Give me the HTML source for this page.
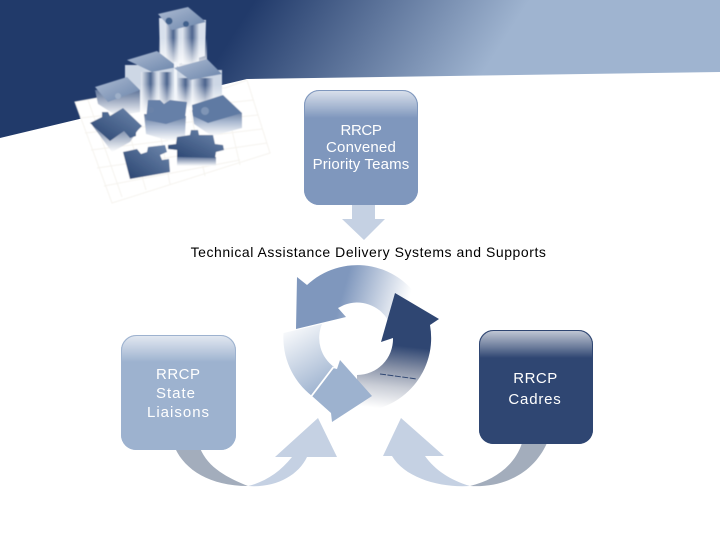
<!DOCTYPE html>
<html><head><meta charset="utf-8"><style>
html,body{margin:0;padding:0;background:#fff}
svg{display:block}
text{font-family:"Liberation Sans",sans-serif}
</style></head><body>
<svg width="720" height="540" viewBox="0 0 720 540" xmlns="http://www.w3.org/2000/svg">
<defs>
<linearGradient id="hdr" gradientUnits="userSpaceOnUse" x1="255" y1="0" x2="450" y2="125"><stop offset="0" stop-color="#213a6a"/><stop offset="1" stop-color="#9fb4d0"/></linearGradient>
<linearGradient id="gloss" x1="0" y1="0" x2="0" y2="1"><stop offset="0" stop-color="#fff" stop-opacity=".72"/><stop offset=".6" stop-color="#fff" stop-opacity=".3"/><stop offset="1" stop-color="#fff" stop-opacity="0"/></linearGradient>
<linearGradient id="a1" gradientUnits="userSpaceOnUse" x1="345" y1="285" x2="408" y2="303"><stop offset="0" stop-color="#7f97bd"/><stop offset="1" stop-color="#7f97bd" stop-opacity="0"/></linearGradient>
<linearGradient id="a2" gradientUnits="userSpaceOnUse" x1="402" y1="346" x2="395" y2="410"><stop offset="0" stop-color="#2f4672"/><stop offset=".35" stop-color="#8791a7"/><stop offset=".65" stop-color="#c9cdd6"/><stop offset="1" stop-color="#fff"/></linearGradient>
<linearGradient id="a3" gradientUnits="userSpaceOnUse" x1="325" y1="390" x2="285" y2="325"><stop offset="0" stop-color="#9db2cf"/><stop offset="1" stop-color="#9db2cf" stop-opacity="0"/></linearGradient>
<linearGradient id="fade" x1="0" y1="0" x2="0" y2="1"><stop offset="0" stop-color="#5d7499"/><stop offset=".45" stop-color="#a9b8d0"/><stop offset="1" stop-color="#fff"/></linearGradient>
<linearGradient id="fadeS" x1="0" y1="0" x2="0" y2="1"><stop offset="0" stop-color="#5f7499"/><stop offset="1" stop-color="#fff"/></linearGradient>
<linearGradient id="wf" x1="0" y1="0" x2="0" y2="1"><stop offset=".4" stop-color="#fff" stop-opacity="0"/><stop offset="1" stop-color="#fff"/></linearGradient>
<linearGradient id="col" x1="0" y1="0" x2="1" y2="0"><stop offset="0" stop-color="#e6ebf3"/><stop offset=".6" stop-color="#4b638d"/><stop offset="1" stop-color="#d5dde9"/></linearGradient>
<linearGradient id="top" x1="0" y1="0" x2="1" y2="1"><stop offset="0" stop-color="#aebcd3"/><stop offset="1" stop-color="#6a84aa"/></linearGradient>
<linearGradient id="flat" x1="0" y1="1" x2="1" y2="0"><stop offset="0" stop-color="#27426f"/><stop offset="1" stop-color="#6f88ad"/></linearGradient>
<filter id="b"><feGaussianBlur stdDeviation=".45"/></filter>
</defs>

<rect width="720" height="540" fill="#fff"/>
<polygon points="0,0 720,0 720,72 247,79 0,138" fill="url(#hdr)"/>

<!-- puzzle -->
<g filter="url(#b)">
<polygon points="75,102 130,92 225,88 247,80 270,153 112,203" fill="#fff"/>
<g stroke="#f5f3ee" stroke-width="1" fill="none">
<polygon points="75,102 130,92 225,88 247,80 270,153 112,203"/>
<path d="M80,118 254,100M85,133 258,115M91,150 262,129M97,168 267,143M104,186 240,160M88,100 122,197M118,95 146,190M152,92 170,184M190,110 205,176M225,100 240,165"/>
</g>
<!-- top column -->
<polygon points="159,18 206,20 205,56 172,66 160,56" fill="#d8e0ec"/>
<rect x="165" y="24" width="14" height="42" fill="url(#col)"/>
<rect x="182" y="24" width="17" height="40" fill="url(#col)"/>
<rect x="159" y="18" width="48" height="50" fill="url(#wf)"/>
<polygon points="158,14 188,7 206,22 172,30" fill="url(#top)"/>
<circle cx="169" cy="21" r="3.500" fill="#41608c"/><circle cx="186" cy="24" r="3" fill="#41608c"/>
<!-- second tier left -->
<rect x="125" y="65" width="50" height="46" fill="#cdd7e5"/>
<rect x="141" y="72" width="16" height="40" fill="url(#col)"/>
<rect x="158" y="72" width="15" height="40" fill="url(#col)"/>
<rect x="125" y="65" width="50" height="48" fill="url(#wf)"/>
<polygon points="127,60 157,51 178,67 152,72" fill="url(#top)"/>
<!-- second tier right -->
<rect x="175" y="70" width="47" height="36" fill="#cdd7e5"/>
<rect x="176" y="78" width="16" height="30" fill="url(#col)"/>
<rect x="192" y="78" width="22" height="28" fill="url(#col)"/>
<rect x="175" y="70" width="47" height="38" fill="url(#wf)"/>
<rect x="174" y="62" width="3" height="46" fill="#f2f5fa"/>
<polygon points="174,68 207,59 222,74 190,80" fill="url(#top)"/>
<!-- left block -->
<polygon points="95,90 140,90 140,112 117,116 98,104" fill="url(#fadeS)"/>
<polygon points="95,87 127,77 140,90 108,102" fill="url(#top)"/>
<circle cx="118" cy="96" r="3" fill="#9fb0c9"/>
<!-- centre piece -->
<polygon points="144,114 186,116 185,136 170,141 146,134" fill="url(#fade)"/>
<path d="M148,100 160,100 164,104 170,100 187,102 185,118 166,124 146,120Z" fill="#6680a8"/>
<circle cx="151" cy="110" r="3" fill="#6a82a8"/>
<!-- right piece -->
<polygon points="192,110 242,113 242,128 212,136 194,124" fill="url(#fade)"/>
<polygon points="192,105 223,95 242,113 208,123 193,116" fill="#5f7aa3"/>
<circle cx="205" cy="111" r="4" fill="#7f95b6"/>
<!-- left flat piece -->
<polygon points="92,125 140,127 130,142 112,152" fill="url(#fadeS)"/>
<path d="M90,123 102,117 102,112 108,112 110,116 123,108 142,126 136,132 136,136 130,138 124,131 110,141Z" fill="url(#flat)"/>
<!-- front flat pieces -->
<rect x="177" y="157" width="39" height="9" fill="url(#fadeS)"/>
<path d="M177,137 190,135 191,130 198,130 199,135 213,135 215,144 223,145 224,150 216,152 215,158 177,157 177,150 168,149 168,145 176,144Z" fill="url(#flat)"/>
<path d="M123,152 137,149 141,154 147,152 148,147 165,145 167,152 160,155 162,160 169,159 170,172 130,179Z" fill="url(#flat)"/>
</g>

<!-- top box -->
<rect x="304" y="90" width="114" height="115" rx="15" fill="#7f97bd"/>
<path d="M304,118V105a15,15 0 0 1 15-15h84a15,15 0 0 1 15,15v13Z" fill="url(#gloss)"/>
<rect x="304.500" y="90.500" width="113" height="114" rx="15" fill="none" stroke="#7f97bd"/>
<text fill="#fff" font-size="15" text-anchor="middle"><tspan x="361" y="135" letter-spacing="-.4">RRCP</tspan><tspan x="361" y="152" letter-spacing=".2">Convened</tspan><tspan x="361" y="169" letter-spacing=".15">Priority Teams</tspan></text>

<!-- down arrow -->
<polygon points="352,205 375,205 375,219 385,219 364,240 342,219 352,219" fill="#c5d1e3"/>

<text x="368.500" y="257" fill="#000" font-size="14" text-anchor="middle" letter-spacing=".55">Technical Assistance Delivery Systems and Supports</text>

<!-- cycle -->
<path d="M297,277 307,285A73.500,73.500 0 0 1 421,302L388,320A36,36 0 0 0 344,305L338,308 346,317 296,329Z" fill="url(#a1)"/>
<path d="M395,293 439,319 430,325A73.500,73.500 0 0 1 357,411.500L357,375A36,36 0 0 0 393,338L381,342Z" fill="url(#a2)"/>
<path d="M283.500,333 322,324A36,36 0 0 0 334,367L312,396A73.500,73.500 0 0 1 283.500,333Z" fill="url(#a3)"/>
<polygon points="340,360 372,396 332,422 331,413 312,396 333,368 337,369" fill="#9db2cf"/>
<path d="M333.500,367 311.500,396" stroke="#fff" stroke-width="1.800"/>
<path d="M380,374 417,379" stroke="#2f4672" stroke-width="1" stroke-dasharray="6 1.500"/>

<!-- left box -->
<path d="M175,448C185,470 210,486 248,486 228,478 208,468 200,448Z" fill="#a3adbc"/>
<rect x="121" y="335" width="115" height="115" rx="15" fill="#9db2cf"/>
<path d="M121,362V350a15,15 0 0 1 15-15h85a15,15 0 0 1 15,15v12Z" fill="url(#gloss)"/>
<rect x="121.500" y="335.500" width="114" height="114" rx="15" fill="none" stroke="#9db2cf"/>
<text fill="#fff" font-size="15"><tspan x="156" y="379" letter-spacing=".5">RRCP</tspan><tspan x="156" y="398" letter-spacing="1">State</tspan><tspan x="147" y="417" letter-spacing="1">Liaisons</tspan></text>
<path d="M248,486C275,488 298,476 307,457H337L318,418 275,457H292C280,472 265,482 248,486Z" fill="#c5d1e3"/>

<!-- right box -->
<path d="M547,443C535,470 508,488 470,486 495,480 515,465 522,443Z" fill="#a3adbc"/>
<rect x="479" y="330" width="114" height="114" rx="14" fill="#2f4672"/>
<path d="M479,358V344a14,14 0 0 1 14-14h86a14,14 0 0 1 14,14v14Z" fill="url(#gloss)"/>
<rect x="479.500" y="330.500" width="113" height="113" rx="14" fill="none" stroke="#2f4672"/>
<text fill="#fff" font-size="15" text-anchor="middle"><tspan x="535.500" y="383" letter-spacing=".5">RRCP</tspan><tspan x="535" y="404" letter-spacing=".8">Cadres</tspan></text>
<path d="M470,486C440,488 405,478 392,456H383L401,418 444,456H425C435,470 450,480 470,486Z" fill="#c5d1e3"/>
</svg>
</body></html>
